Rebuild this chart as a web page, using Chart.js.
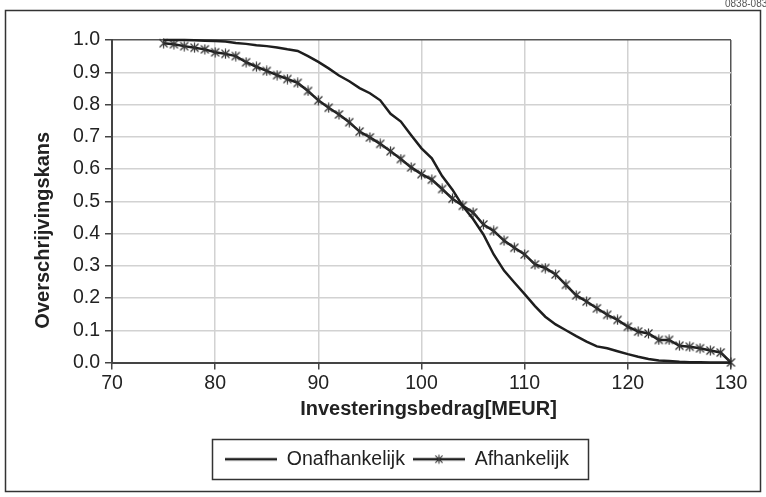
<!DOCTYPE html>
<html>
<head>
<meta charset="utf-8">
<script src="https://cdn.jsdelivr.net/npm/chart.js@4"></script>
<style>
html,body{margin:0;padding:0;background:#fff;}
#wrap{width:766px;height:497px;position:relative;}
</style>
</head>
<body>
<div id="wrap"><canvas id="c" width="766" height="497"></canvas></div>
<script>
// ---- data ----
const xValues = [75,76,77,78,79,80,81,82,83,84,85,86,87,88,89,90,91,92,93,94,95,96,97,98,99,100,
  101,102,103,104,105,106,107,108,109,110,111,112,113,114,115,116,117,118,119,120,121,122,123,124,125,126,127,128,129,130];
const onafhankelijk = [1.000,1.000,1.000,0.999,0.998,0.997,0.995,0.991,0.988,0.984,0.981,0.977,0.971,0.966,0.950,0.932,
  0.912,0.890,0.872,0.851,0.835,0.813,0.771,0.747,0.705,0.664,0.633,0.578,0.536,0.485,0.445,0.397,0.335,0.285,0.248,0.212,
  0.175,0.142,0.118,0.100,0.082,0.065,0.050,0.044,0.035,0.026,0.018,0.011,0.006,0.005,0.002,0.001,0.001,0.000,0.000,0.000];
const afhankelijk = [0.990,0.987,0.981,0.976,0.971,0.962,0.957,0.950,0.931,0.917,0.904,0.891,0.879,0.867,0.842,0.813,
  0.790,0.769,0.745,0.716,0.698,0.678,0.655,0.631,0.605,0.584,0.567,0.538,0.508,0.486,0.465,0.428,0.408,0.378,0.356,0.335,
  0.304,0.293,0.273,0.241,0.208,0.189,0.168,0.148,0.132,0.111,0.096,0.090,0.070,0.070,0.052,0.049,0.044,0.037,0.031,0.000];
const seriesNames = ['Onafhankelijk','Afhankelijk'];
const xTitle = 'Investeringsbedrag[MEUR]';
const yTitle = 'Overschrijvingskans';
const cornerCode = '0838-0839';

// ---- styling helpers ----
const FONT = "'Liberation Sans', Arial, Helvetica, sans-serif";
const LINE = '#1e1e1e';

function makeStar(size, color, lw){
  const c = document.createElement('canvas'); c.width = size; c.height = size;
  const g = c.getContext('2d'); g.strokeStyle = color; g.lineWidth = lw;
  const m = size/2, r = size/2 - 0.5, d = r*0.8;
  g.beginPath();
  g.moveTo(m-d, m-d); g.lineTo(m+d, m+d);
  g.moveTo(m+d, m-d); g.lineTo(m-d, m+d);
  g.moveTo(m, m-r); g.lineTo(m, m+r);
  g.stroke();
  return c;
}
function makeLegendLine(w, h, withStar){
  const c = document.createElement('canvas'); c.width = w; c.height = h;
  const g = c.getContext('2d');
  g.strokeStyle = LINE; g.lineWidth = 2.5;
  g.beginPath(); g.moveTo(0, h/2); g.lineTo(w, h/2); g.stroke();
  if (withStar){
    const s = makeStar(10, '#333', 1.1);
    g.drawImage(s, w/2-5, h/2-5);
  }
  return c;
}
const starImg = makeStar(11, '#333', 1.2);
const legendImgs = [makeLegendLine(52, 12, false), makeLegendLine(52, 12, true)];

const framePlugin = {
  id: 'frame',
  beforeDraw(chart){
    const ctx = chart.ctx;
    ctx.save();
    ctx.fillStyle = '#fff'; ctx.fillRect(0,0,chart.width,chart.height);
    ctx.strokeStyle = '#333'; ctx.lineWidth = 1.5;
    ctx.strokeRect(5.5, 10.5, 755, 481);
    ctx.fillStyle = '#555'; ctx.font = "10px " + FONT; ctx.textBaseline = 'top';
    ctx.fillText(cornerCode, 725, -1);
    ctx.restore();
  },
  afterDraw(chart){
    const ctx = chart.ctx;
    const ca = chart.chartArea;
    ctx.save();
    // axis titles
    ctx.fillStyle = '#222';
    ctx.font = "bold 20px " + FONT;
    ctx.textAlign = 'center'; ctx.textBaseline = 'middle';
    ctx.fillText(xTitle, (ca.left + ca.right)/2 + 7, ca.bottom + 47);
    ctx.translate(43, (ca.top + ca.bottom)/2 + 29);
    ctx.rotate(-Math.PI/2);
    ctx.fillText(yTitle, 0, 0);
    ctx.restore();
    // legend border
    const lg = chart.legend;
    if (!lg || !lg.legendHitBoxes || !lg.legendHitBoxes.length) return;
    const hb = lg.legendHitBoxes;
    const first = hb[0], last = hb[hb.length-1];
    ctx.save();
    ctx.strokeStyle = '#333'; ctx.lineWidth = 1.5;
    const l = first.left - 13, r = last.left + last.width + 19;
    const t = first.top - 11, b = first.top + first.height + 9;
    ctx.strokeRect(Math.round(l)+0.5, Math.round(t)+0.5, Math.round(r-l), Math.round(b-t));
    ctx.restore();
  }
};

const PAD_LEFT = 63;
const chart = new Chart(document.getElementById('c'), {
  type: 'line',
  data: {
    datasets: [
      { label: seriesNames[0], data: xValues.map((x,i)=>({x, y: onafhankelijk[i]})),
        borderColor: LINE, borderWidth: 2.5, pointRadius: 0, fill: false, tension: 0, clip: 10 },
      { label: seriesNames[1], data: xValues.map((x,i)=>({x, y: afhankelijk[i]})),
        borderColor: LINE, borderWidth: 2.5, pointStyle: starImg, pointRadius: 5, fill: false, tension: 0, clip: 12 }
    ]
  },
  options: {
    responsive: false, animation: false, devicePixelRatio: 1,
    layout: { padding: { left: PAD_LEFT, right: 35, top: 40, bottom: 18 } },
    plugins: {
      tooltip: { enabled: false },
      legend: {
        position: 'bottom',
        labels: {
          usePointStyle: true, pointStyleWidth: 52, padding: 8,
          color: '#222', font: { family: FONT, size: 19.5 },
          generateLabels: () => seriesNames.map((n,i)=>({
            text: n, pointStyle: legendImgs[i], datasetIndex: i, hidden: false,
            lineWidth: 0, strokeStyle: LINE, fillStyle: LINE, fontColor: '#222'
          }))
        }
      }
    },
    scales: {
      x: {
        type: 'linear', min: 70, max: 130,
        ticks: { stepSize: 10, color: '#222', font: { family: FONT, size: 19.5 }, padding: 2, maxRotation: 0 },
        grid: { color: c => c.tick && c.tick.value === 130 ? '#555' : '#d2d2d2', lineWidth: 1.5,
                tickColor: '#444', tickLength: 7, tickWidth: 1.5 },
        border: { color: '#444', width: 2 },
        title: { display: false, text: xTitle },
        afterFit: s => { s.height = 79; }
      },
      y: {
        min: 0, max: 1,
        ticks: { stepSize: 0.1, color: '#222', font: { family: FONT, size: 19.5 }, padding: 5,
                 callback: v => Number(v).toFixed(1) },
        grid: { color: c => c.tick && c.tick.value === 1 ? '#555' : '#d2d2d2', lineWidth: 1.5,
                tickColor: '#444', tickLength: 7, tickWidth: 1.5 },
        border: { color: '#444', width: 2 },
        title: { display: false, text: yTitle },
        afterFit: s => { s.width = 112 - PAD_LEFT; }
      }
    }
  },
  plugins: [framePlugin]
});
</script>
</body>
</html>
